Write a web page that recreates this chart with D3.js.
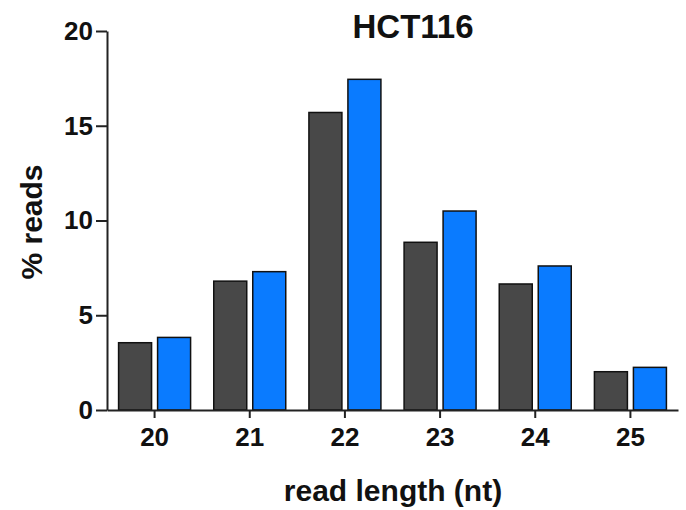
<!DOCTYPE html>
<html>
<head>
<meta charset="utf-8">
<script src="https://cdn.jsdelivr.net/npm/d3@7"></script>
<style>
  body { margin: 0; background: #fff; }
  text { font-family: "Liberation Sans", Arial, sans-serif; font-weight: bold; fill: #111; }
</style>
</head>
<body>
<div id="chart"></div>
<script>
// data
let lengths = ["20", "21", "22", "23", "24", "25"];
let seriesNames = ["grey", "blue"];
let greyValues = [3.55, 6.8, 15.7, 8.85, 6.65, 2.02];
let blueValues = [3.83, 7.3, 17.45, 10.5, 7.6, 2.25];
let yTicks = [0, 5, 10, 15, 20];
let colors = ["#484848", "#0a7bff"];

let width = 686, height = 510;
let mLeft = 107, mRight = 678, mTop = 31, mBottom = 410;

let svg = d3.select("#chart").append("svg")
    .attr("width", width)
    .attr("height", height);

let x = d3.scaleBand().domain(lengths).range([mLeft, mRight]).padding(0);
let x1 = d3.scaleBand().domain(seriesNames).range([0, x.bandwidth()])
    .paddingInner(0.154).paddingOuter(0.297);
let y = d3.scaleLinear().domain([0, 20]).range([mBottom, mTop]);

let rows = lengths.map((l, i) => ({ len: l, vals: [greyValues[i], blueValues[i]] }));

// bars
let groups = svg.append("g").selectAll("g")
    .data(rows)
    .join("g")
    .attr("transform", d => `translate(${x(d.len)},0)`);

groups.selectAll("rect")
    .data(d => d.vals.map((v, k) => ({ key: seriesNames[k], v: v, k: k })))
    .join("rect")
    .attr("x", d => x1(d.key))
    .attr("y", d => y(d.v))
    .attr("width", x1.bandwidth())
    .attr("height", d => y(0) - y(d.v))
    .attr("fill", d => colors[d.k])
    .attr("stroke", "#111")
    .attr("stroke-width", 1.5);

// y axis
let yAxis = svg.append("g")
    .attr("transform", `translate(${mLeft},0)`)
    .call(d3.axisLeft(y).tickValues(yTicks).tickSize(11).tickPadding(3).tickSizeOuter(0));
yAxis.select(".domain").attr("stroke", "#222").attr("stroke-width", 2);
yAxis.selectAll(".tick line").attr("stroke", "#222").attr("stroke-width", 2);
yAxis.selectAll(".tick text").style("font-size", "26px").attr("fill", "#111");

// x axis
let xAxis = svg.append("g")
    .attr("transform", `translate(0,${mBottom})`)
    .call(d3.axisBottom(x).tickSize(8).tickPadding(10).tickSizeOuter(0));
xAxis.select(".domain").attr("stroke", "#222").attr("stroke-width", 2);
xAxis.selectAll(".tick line").attr("stroke", "#222").attr("stroke-width", 2);
xAxis.selectAll(".tick text").style("font-size", "26px").attr("fill", "#111");

// title and labels
svg.append("text")
    .attr("x", 413).attr("y", 38)
    .attr("text-anchor", "middle")
    .style("font-size", "33px")
    .text("HCT116");

svg.append("text")
    .attr("x", 393).attr("y", 501)
    .attr("text-anchor", "middle")
    .style("font-size", "30px")
    .text("read length (nt)");

svg.append("text")
    .attr("transform", "translate(42,222) rotate(-90)")
    .attr("text-anchor", "middle")
    .style("font-size", "30px")
    .text("% reads");
</script>
</body>
</html>
